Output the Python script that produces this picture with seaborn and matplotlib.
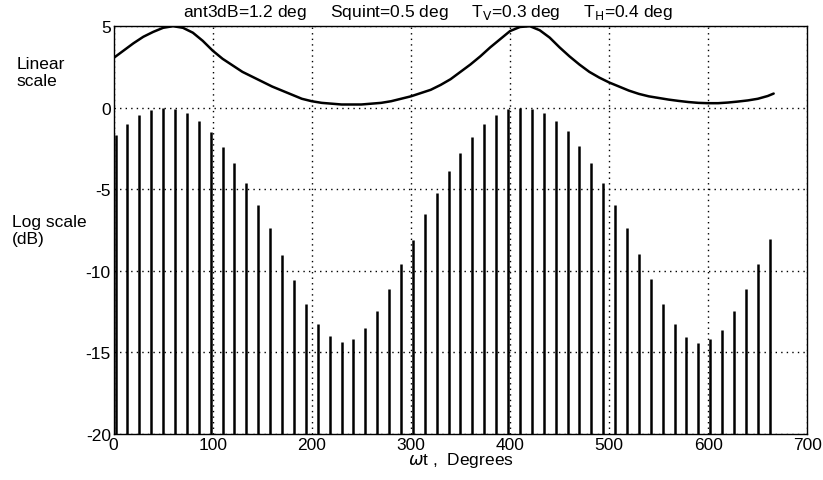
import numpy as np
import pandas as pd
import seaborn as sns
import matplotlib.pyplot as plt

# linear-scale envelope (deg, value)
lin_deg = [0, 10, 20, 30, 40, 50, 60, 70, 80, 90, 100, 110, 120, 130, 140, 150, 160, 170,
           180, 190, 200, 210, 220, 230, 240, 250, 260, 270, 280, 290, 300, 310, 320, 330,
           340, 350, 360, 370, 380, 390, 400, 410, 420, 430, 440, 450, 460, 470, 480, 490,
           500, 510, 520, 530, 540, 550, 560, 570, 580, 590, 600, 610, 620, 630, 640, 650,
           660, 666]
lin_val = [3.05, 3.5, 3.95, 4.35, 4.65, 4.9, 5.0, 4.9, 4.6, 4.1, 3.5, 3.0, 2.6, 2.2,
           1.9, 1.6, 1.3, 1.05, 0.8, 0.55, 0.4, 0.3, 0.25, 0.2, 0.2, 0.2, 0.25, 0.3, 0.4,
           0.55, 0.7, 0.9, 1.1, 1.4, 1.75, 2.2, 2.65, 3.15, 3.7, 4.2, 4.7, 4.95, 5.0, 4.75,
           4.3, 3.7, 3.15, 2.65, 2.2, 1.85, 1.55, 1.3, 1.05, 0.85, 0.7, 0.6, 0.5, 0.42, 0.35,
           0.3, 0.28, 0.28, 0.32, 0.38, 0.45, 0.55, 0.72, 0.87]

# pulse positions (deg) and peak levels (dB)
pulse_deg = [2, 14, 26, 38, 50, 62, 74, 86, 98, 110, 122, 134, 146, 158, 170, 182, 194, 206,
             218, 230, 242, 254, 266, 278, 290, 302, 314, 326, 338, 350, 362, 374, 386, 398,
             410, 422, 434, 446, 458, 470, 482, 494, 506, 518, 530, 542, 554, 566, 578, 590,
             602, 614, 626, 638, 650, 662]
pulse_db = [-1.7, -1.0, -0.47, -0.12, 0.0, -0.06, -0.35, -0.84, -1.5, -2.4, -3.4, -4.6, -5.95,
            -7.4, -9.0, -10.56, -12.0, -13.27, -14.0, -14.37, -14.2, -13.5, -12.45, -11.1, -9.6,
            -8.1, -6.5, -5.2, -3.85, -2.75, -1.8, -1.0, -0.45, -0.1, 0.0, -0.05, -0.35, -0.8,
            -1.45, -2.35, -3.4, -4.6, -5.95, -7.4, -8.95, -10.5, -12.0, -13.25, -14.05, -14.4,
            -14.2, -13.6, -12.45, -11.1, -9.55, -8.05]

x_ticks = [0, 100, 200, 300, 400, 500, 600, 700]
y_ticks = [-20, -15, -10, -5, 0, 5]

sns.set_theme(style='white')
plt.rcParams['font.family'] = ['Liberation Sans', 'DejaVu Sans']
fs = 12.5

fig = plt.figure(figsize=(8.23, 4.81), dpi=100)
ax = fig.add_axes([0.138, 0.0955, 0.843, 0.848])

lin_df = pd.DataFrame({'deg': lin_deg, 'val': lin_val})
sns.lineplot(data=lin_df, x='deg', y='val', color='black', linewidth=1.8, ax=ax)
ax.vlines(pulse_deg, -20, pulse_db, color='black', linewidth=1.8)

ax.set_xlim(0, 700)
ax.set_ylim(-20, 5)
ax.set_xticks(x_ticks)
ax.set_yticks(y_ticks)
ax.set_xticklabels([str(t) for t in x_ticks], fontsize=fs)
ax.set_yticklabels([str(t) for t in y_ticks], fontsize=fs)
ax.tick_params(direction='in', length=4, color='black', labelcolor='black', pad=2)
ax.grid(True, color='black', linestyle=(0, (1, 3)), linewidth=1)
for s in ax.spines.values():
    s.set_color('black')
    s.set_linewidth(1)

ax.set_xlabel(r'$\omega$t ,  Degrees', fontsize=fs, color='black', labelpad=-1)
ax.set_ylabel('')
fig.text(0.52, 0.975,
         r'ant3dB=1.2 deg     Squint=0.5 deg     T$_\mathrm{V}$=0.3 deg     T$_\mathrm{H}$=0.4 deg',
         fontsize=fs, color='black', ha='center', va='center')

fig.text(0.020, 0.848, 'Linear\nscale', fontsize=fs, color='black', va='center', linespacing=1.2)
fig.text(0.014, 0.52, 'Log scale\n(dB)', fontsize=fs, color='black', va='center', linespacing=1.2)

plt.savefig('out.png', dpi=100)
